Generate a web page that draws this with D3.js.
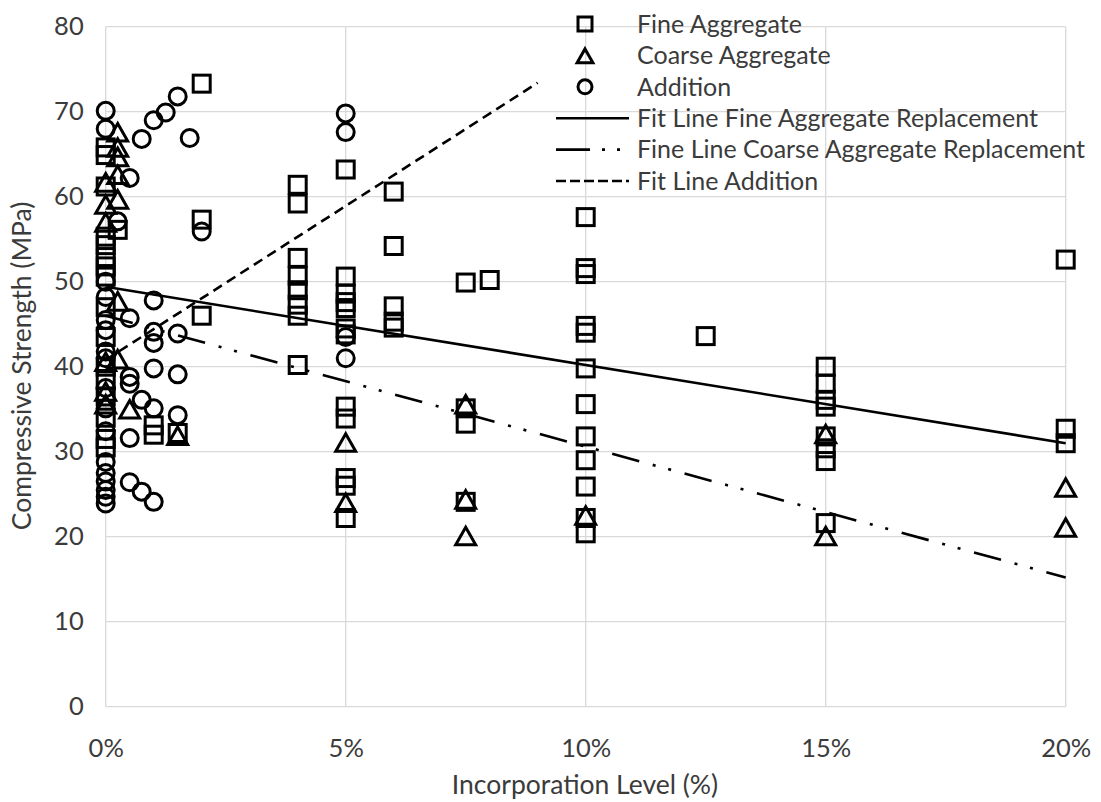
<!DOCTYPE html>
<html>
<head>
<meta charset="utf-8">
<script src="https://cdn.jsdelivr.net/npm/d3@7"></script>
<style>
  body { margin: 0; background: #ffffff; }
  text { font-family: Lato, "Noto Sans", sans-serif; fill: #3b3b3b; }
</style>
</head>
<body>
<svg id="chart" width="1101" height="802"></svg>
<script>
// Axis ticks
const xTicks = [0, 5, 10, 15, 20];
const yTicks = [0, 10, 20, 30, 40, 50, 60, 70, 80];

// Fine aggregate replacement: [incorporation %, compressive strength MPa]
const fineAggregate = [
  [0, 65.8], [0, 64.9], [0, 61.2], [0, 55.3], [0, 54.3], [0, 52.9], [0, 51.8], [0, 50.6],
  [0, 47.0], [0, 43.5], [0, 40.0], [0, 38.4], [0, 36.5], [0, 34.0], [0, 31.5], [0, 30.5],
  [0.25, 56.1], [1, 33.1], [1, 32.0], [1.5, 32.2],
  [2, 73.3], [2, 57.3], [2, 46.0],
  [4, 61.4], [4, 59.2], [4, 52.8], [4, 50.7], [4, 49.0], [4, 47.3], [4, 46.0], [4, 40.2],
  [5, 63.2], [5, 50.6], [5, 48.6], [5, 47.6], [5, 46.9], [5, 44.5], [5, 43.8],
  [5, 35.3], [5, 33.9], [5, 26.9], [5, 26.0], [5, 22.2],
  [6, 60.6], [6, 54.2], [6, 47.1], [6, 45.3], [6, 44.6],
  [7.5, 49.9], [7.5, 35.1], [7.5, 33.3], [7.5, 24.1], [8, 50.2],
  [10, 57.6], [10, 51.6], [10, 50.9], [10, 44.8], [10, 44.0], [10, 39.8], [10, 35.6],
  [10, 31.8], [10, 29.0], [10, 25.9], [10, 22.2], [10, 20.4],
  [12.5, 43.6],
  [15, 40.0], [15, 38.0], [15, 36.1], [15, 35.3], [15, 31.8], [15, 30.4], [15, 28.9], [15, 21.6],
  [20, 52.6], [20, 32.7], [20, 31.0]
];

// Coarse aggregate replacement
const coarseAggregate = [
  [0, 61.6], [0, 59.0], [0, 56.9], [0, 40.5], [0, 37.0], [0, 35.5],
  [0.25, 67.5], [0.25, 65.7], [0.25, 64.6], [0.25, 62.5], [0.25, 59.6], [0.25, 47.6], [0.25, 40.8],
  [0.5, 34.9], [1.5, 31.8],
  [5, 31.0], [5, 23.9],
  [7.5, 35.5], [7.5, 24.3], [7.5, 20.0],
  [10, 22.4],
  [15, 32.0], [15, 20.0],
  [20, 25.7], [20, 21.0]
];

// Addition
const addition = [
  [0, 70.1], [0, 68.0], [0, 50.0], [0, 48.2], [0, 45.5], [0, 44.3], [0, 41.8], [0, 41.0],
  [0, 37.5], [0, 35.1], [0, 32.4], [0, 28.8], [0, 27.5], [0, 26.5], [0, 25.5], [0, 24.7], [0, 23.9],
  [0.25, 57.1],
  [0.5, 62.2], [0.5, 45.7], [0.5, 38.8], [0.5, 38.0], [0.5, 31.6], [0.5, 26.4],
  [0.75, 66.8], [0.75, 36.1], [0.75, 25.3],
  [1, 69.0], [1, 47.8], [1, 44.1], [1, 42.8], [1, 39.8], [1, 35.1], [1, 24.1],
  [1.25, 69.9],
  [1.5, 71.8], [1.5, 43.9], [1.5, 39.1], [1.5, 34.3],
  [1.75, 66.9], [2, 55.9],
  [5, 69.8], [5, 67.6], [5, 43.5], [5, 41.0]
];

// Linear fit lines (end points)
const fitFine = [[0, 49.4], [20, 31.0]];
const fitCoarse = [[0, 46.0], [20, 15.2]];
const fitAddition = [[0, 40.8], [9, 73.4]];

const legendLabels = [
  "Fine Aggregate",
  "Coarse Aggregate",
  "Addition",
  "Fit Line Fine Aggregate Replacement",
  "Fine Line Coarse Aggregate Replacement",
  "Fit Line Addition"
];

const svg = d3.select("#chart");
const x = d3.scaleLinear().domain([0, 20]).range([105.7, 1065.7]);
const y = d3.scaleLinear().domain([0, 80]).range([706.7, 26.7]);

// Gridlines
const grid = svg.append("g").attr("stroke", "#d9d9d9").attr("stroke-width", 1.3);
grid.selectAll("line.h").data(yTicks).join("line")
  .attr("x1", x(0)).attr("x2", x(20))
  .attr("y1", d => y(d)).attr("y2", d => y(d));
grid.selectAll("line.v").data(xTicks).join("line")
  .attr("y1", y(0)).attr("y2", y(80))
  .attr("x1", d => x(d)).attr("x2", d => x(d));

// Axes (tick labels only, no axis lines)
const xAxis = svg.append("g").attr("transform", `translate(0,${y(0)})`)
  .call(d3.axisBottom(x).tickValues(xTicks).tickFormat(d => d + "%").tickSize(0));
const yAxis = svg.append("g").attr("transform", `translate(${x(0)},0)`)
  .call(d3.axisLeft(y).tickValues(yTicks).tickSize(0).tickPadding(22));
[xAxis, yAxis].forEach(a => {
  a.select(".domain").remove();
  a.selectAll("text").style("font-size", "25.5px").style("font-family", "Lato, sans-serif").attr("fill", "#3b3b3b");
});
xAxis.selectAll("text").attr("y", 41).attr("dy", "0.35em");

svg.append("text").attr("x", 585).attr("y", 785).attr("dy", "0.35em").attr("text-anchor", "middle")
  .style("font-size", "26.5px").text("Incorporation Level (%)");
svg.append("text").attr("transform", "translate(22,366) rotate(-90)").attr("dy", "0.35em")
  .attr("text-anchor", "middle")
  .style("font-size", "26.5px").text("Compressive Strength (MPa)");

// Marker shapes
const tri = s => `M0,${-s}L${s * 1.05},${s * 0.85}L${-s * 1.05},${s * 0.85}Z`;
const markStyle = sel => sel.attr("fill", "none").attr("stroke", "#000").attr("stroke-width", 3);

const marks = svg.append("g");
marks.selectAll("rect.fine").data(fineAggregate).join("rect")
  .attr("x", d => x(d[0]) - 8.5).attr("y", d => y(d[1]) - 8.5)
  .attr("width", 17).attr("height", 17).call(markStyle);
marks.selectAll("path.coarse").data(coarseAggregate).join("path")
  .attr("transform", d => `translate(${x(d[0])},${y(d[1])})`)
  .attr("d", tri(9.5)).call(markStyle);
marks.selectAll("circle.add").data(addition).join("circle")
  .attr("cx", d => x(d[0])).attr("cy", d => y(d[1])).attr("r", 8.5).call(markStyle);

// Fit lines
const line = d3.line().x(d => x(d[0])).y(d => y(d[1]));
const fits = [
  { data: fitFine, dash: null },
  { data: fitCoarse, dash: "28 14 3 13 3 14" },
  { data: fitAddition, dash: "10 6" }
];
svg.append("g").selectAll("path").data(fits).join("path")
  .attr("d", d => line(d.data)).attr("fill", "none").attr("stroke", "#000")
  .attr("stroke-width", 2.6).attr("stroke-dasharray", d => d.dash);

// Legend
const lg = svg.append("g");
const rowY = i => 24 + i * 31.4;
lg.selectAll("text").data(legendLabels).join("text")
  .attr("x", 637).attr("y", (d, i) => rowY(i)).attr("dy", "0.35em")
  .style("font-size", "25px").text(d => d);
lg.append("rect").attr("x", 585 - 7).attr("y", rowY(0) - 7).attr("width", 14).attr("height", 14).call(markStyle);
lg.append("path").attr("transform", `translate(585,${rowY(1) + 1})`).attr("d", tri(7.5)).call(markStyle);
lg.append("circle").attr("cx", 585).attr("cy", rowY(2)).attr("r", 7).call(markStyle);
[null, "34 12 3 12 3 12", "10 4"].forEach((dash, k) => {
  lg.append("line").attr("x1", 556).attr("x2", 629)
    .attr("y1", rowY(3 + k)).attr("y2", rowY(3 + k))
    .attr("stroke", "#000").attr("stroke-width", 2.6).attr("stroke-dasharray", dash);
});
</script>
</body>
</html>
